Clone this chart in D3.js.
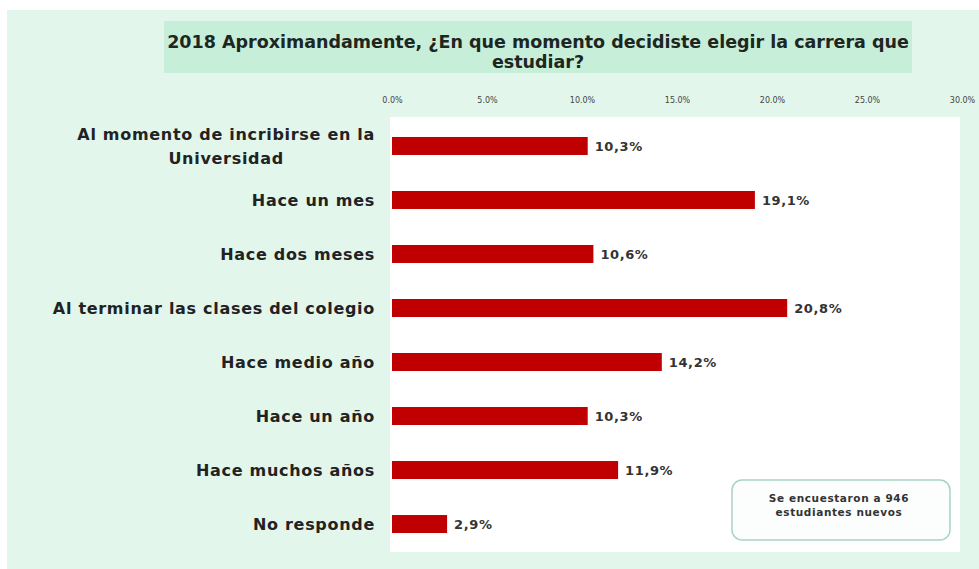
<!DOCTYPE html>
<html>
<head>
<meta charset="utf-8">
<script src="https://cdn.jsdelivr.net/npm/d3@7"></script>
<style>
  body { margin: 0; background: #fff; }
  text { font-family: "DejaVu Sans", sans-serif; }
</style>
</head>
<body>
<svg id="chart" width="979" height="569"></svg>
<script>
// data
const categories = [
  "Al momento de incribirse en la|Universidad",
  "Hace un mes",
  "Hace dos meses",
  "Al terminar las clases del colegio",
  "Hace medio año",
  "Hace un año",
  "Hace muchos años",
  "No responde"
];
const values = [10.3, 19.1, 10.6, 20.8, 14.2, 10.3, 11.9, 2.9];
const tickValues = [0, 5, 10, 15, 20, 25, 30];
const titleLines = ["2018 Aproximandamente, ¿En que momento decidiste elegir la carrera que", "estudiar?"];
const noteLines = ["Se encuestaron a 946", "estudiantes nuevos"];

const width = 979, height = 569;
const svg = d3.select("#chart");

// backgrounds
svg.append("rect").attr("x", 7).attr("y", 10).attr("width", width - 7).attr("height", height - 10)
  .attr("fill", "#e2f6ec");
svg.append("rect").attr("x", 164).attr("y", 21).attr("width", 748).attr("height", 52)
  .attr("fill", "#c7eed9");

const title = svg.append("text").attr("text-anchor", "middle")
  .attr("font-weight", "bold").attr("font-size", 17.5).attr("fill", "#1d261f");
titleLines.forEach((t, i) => {
  title.append("tspan").attr("x", 538).attr("y", 48 + i * 20).text(t);
});

// plot panel
svg.append("rect").attr("x", 390).attr("y", 117).attr("width", 570).attr("height", 435)
  .attr("fill", "#ffffff");

const x = d3.scaleLinear().domain([0, 30]).range([392, 962]);
const y = d3.scaleBand().domain(categories).range([119, 551])
  .paddingInner(0.667).paddingOuter(0.333);

// top axis
const xAxis = svg.append("g")
  .attr("transform", "translate(0,106)")
  .call(d3.axisTop(x).tickValues(tickValues).tickSize(0).tickFormat(d => d3.format(".1f")(d) + "%"));
xAxis.select(".domain").remove();
xAxis.selectAll("text").attr("font-size", 8).attr("fill", "#444").attr("dy", 0);

// bars
svg.append("g").selectAll("rect")
  .data(values)
  .join("rect")
  .attr("x", x(0))
  .attr("y", (d, i) => y(categories[i]))
  .attr("width", d => x(d) - x(0))
  .attr("height", y.bandwidth())
  .attr("fill", "#c00000");

// value labels
svg.append("g").selectAll("text")
  .data(values)
  .join("text")
  .attr("x", d => x(d) + 7)
  .attr("y", (d, i) => y(categories[i]) + y.bandwidth() / 2)
  .attr("dy", "0.35em")
  .attr("font-size", 13)
  .attr("font-weight", "bold")
  .attr("letter-spacing", 0.6)
  .attr("fill", "#333")
  .text(d => d3.format(".1f")(d).replace(".", ",") + "%");

// category labels
const labels = svg.append("g")
  .attr("font-size", 16).attr("font-weight", "bold").attr("fill", "#222").attr("letter-spacing", 0.7);
categories.forEach(c => {
  const parts = c.split("|");
  const cy = y(c) + y.bandwidth() / 2;
  const t = labels.append("text");
  if (parts.length === 1) {
    t.attr("x", 375).attr("y", cy).attr("dy", "0.35em").attr("text-anchor", "end").text(c);
  } else {
    // wrapped label: lines centred on the first line
    t.attr("text-anchor", "end").attr("x", 375).attr("y", cy - 12).attr("dy", "0.35em").text(parts[0]);
    const w = t.node().getComputedTextLength();
    labels.append("text")
      .attr("text-anchor", "middle").attr("x", 375 - w / 2).attr("y", cy + 12).attr("dy", "0.35em")
      .text(parts[1]);
  }
});

// note box
svg.append("rect").attr("x", 732).attr("y", 480).attr("width", 218).attr("height", 60)
  .attr("rx", 10).attr("fill", "#fbfefd").attr("stroke", "#a9d2c6").attr("stroke-width", 1.5);
const note = svg.append("text").attr("text-anchor", "middle")
  .attr("font-size", 10.5).attr("font-weight", "bold").attr("fill", "#333").attr("letter-spacing", 0.6);
noteLines.forEach((t, i) => {
  note.append("tspan").attr("x", 839).attr("y", 502 + i * 14).text(t);
});
</script>
</body>
</html>
